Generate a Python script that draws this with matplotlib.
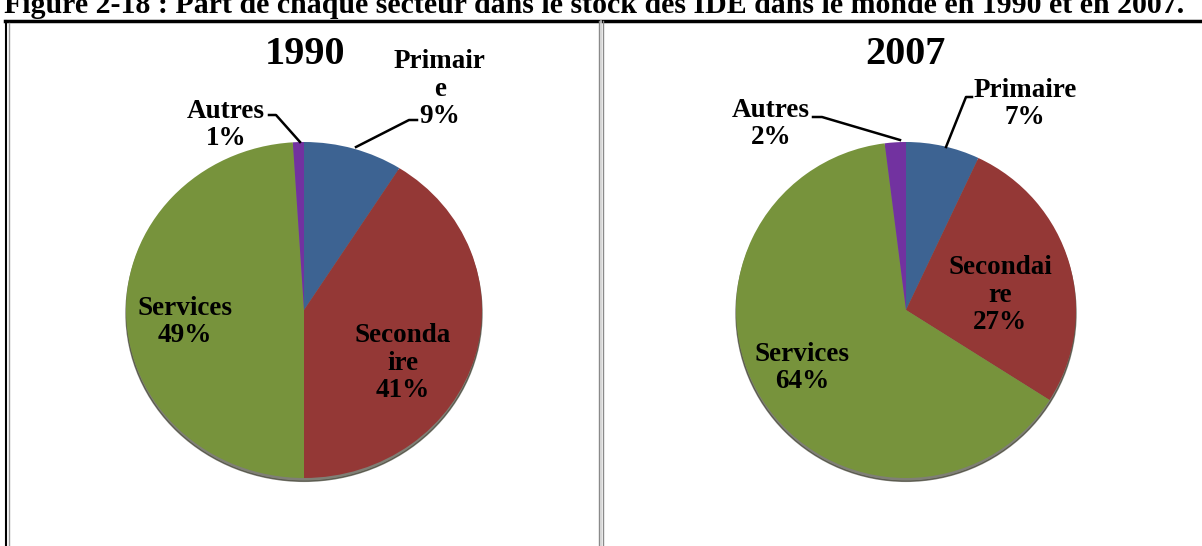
import matplotlib.pyplot as plt
from matplotlib.lines import Line2D
from matplotlib.patches import Ellipse

plt.rcParams['font.family'] = ['Liberation Serif', 'DejaVu Serif']

# données
annees = ['1990', '2007']
parts_1990 = [9, 41, 49, 1]
parts_2007 = [7, 27, 64, 2]
noms_1990 = ['Primair\ne', 'Seconda\nire', 'Services', 'Autres']
noms_2007 = ['Primaire', 'Secondai\nre', 'Services', 'Autres']
couleurs = ['#3D6392', '#943836', '#77933C', '#7232A0']
titre = "Figure 2-18 : Part de chaque secteur dans le stock des IDE dans le monde en 1990 et en 2007."

W, H = 1202, 546
fig = plt.figure(figsize=(W / 100, H / 100), dpi=100)


def fx(x):
    return x / W


def fy(y):
    return 1 - y / H


def camembert(cx, cy, rx, ry, parts, noms, pos_labels, pos_titre, annee, leaders):
    ax = fig.add_axes([fx(cx - rx), fy(cy + ry), 2 * rx / W, 2 * ry / H])
    ax.add_patch(Ellipse((0, -0.02), 2.0, 2.0, color='#2a2a1a', alpha=0.6, zorder=0,
                         clip_on=False))
    ax.pie(parts, colors=couleurs, startangle=90, counterclock=False, radius=1,
           wedgeprops=dict(linewidth=0))
    ax.set_aspect('auto')
    ax.set_xlim(-1, 1)
    ax.set_ylim(-1, 1)
    ax.axis('off')
    fig.text(fx(pos_titre[0]), fy(pos_titre[1]), annee, ha='center', va='center',
             fontsize=29, fontweight='bold')
    for nom, v, (x, y) in zip(noms, parts, pos_labels):
        fig.text(fx(x), fy(y), f"{nom}\n{v}%", ha='center', va='center',
                 fontsize=19.5, fontweight='bold', linespacing=1.14)
    for pts in leaders:
        xs = [fx(p[0]) for p in pts]
        ys = [fy(p[1]) for p in pts]
        fig.add_artist(Line2D(xs, ys, color='black', lw=1.8))


camembert(304, 310, 178, 168, parts_1990, noms_1990,
          [(440, 89), (403, 363), (185, 322), (226, 125)], (305, 55), annees[0],
          [[(417, 120), (409, 120), (356, 147)], [(269, 115), (276, 115), (300, 142)]])
camembert(906, 310, 170, 168, parts_2007, noms_2007,
          [(1025, 104), (1000, 295), (802, 368), (771, 124)], (905, 55), annees[1],
          [[(972, 97), (966, 97), (946, 147)], [(813, 117), (822, 117), (900, 140)]])

# titre coupé en haut, comme dans l'original
fig.text(fx(4), fy(13), titre, ha='left', va='baseline', fontsize=21.5, fontweight='bold')

# cadre du tableau
fig.add_artist(Line2D([fx(5), fx(W)], [fy(21), fy(21)], color='black', lw=2.5))
fig.add_artist(Line2D([fx(6), fx(6)], [fy(21), fy(H)], color='black', lw=1.5))
fig.add_artist(Line2D([fx(9), fx(9)], [fy(23), fy(H)], color='#9a9a9a', lw=1))
fig.add_artist(Line2D([fx(599), fx(599)], [fy(21), fy(H)], color='#8a8a8a', lw=1))
fig.add_artist(Line2D([fx(601), fx(601)], [fy(21), fy(H)], color='#d0d0d0', lw=1.2))
fig.add_artist(Line2D([fx(603), fx(603)], [fy(21), fy(H)], color='#8a8a8a', lw=1))

fig.savefig('out.png', dpi=100)
